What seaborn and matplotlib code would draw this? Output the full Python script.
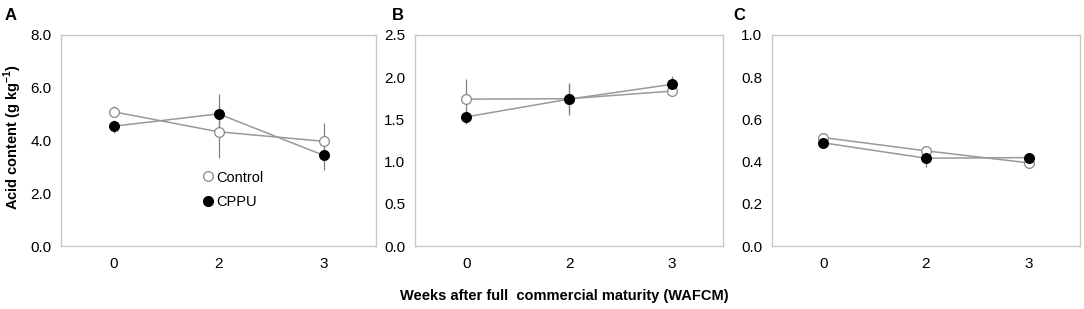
import pandas as pd
import matplotlib.pyplot as plt
import seaborn as sns
from matplotlib.lines import Line2D

# 数据
weeks = ['0', '2', '3']

control_a = [5.09, 4.33, 3.97]
control_a_err = [0.2, 1.0, 0.7]
cppu_a = [4.54, 5.01, 3.44]
cppu_a_err = [0.25, 0.75, 0.57]

control_b = [1.74, 1.745, 1.835]
control_b_err = [0.24, 0.17, 0.05]
cppu_b = [1.53, 1.74, 1.915]
cppu_b_err = [0.08, 0.19, 0.1]

control_c = [0.514, 0.451, 0.394]
control_c_err = [0.01, 0.01, 0.01]
cppu_c = [0.489, 0.416, 0.419]
cppu_c_err = [0.01, 0.04, 0.01]

panels = [
    ('A', control_a, control_a_err, cppu_a, cppu_a_err, [0, 2, 4, 6, 8]),
    ('B', control_b, control_b_err, cppu_b, cppu_b_err, [0, 0.5, 1.0, 1.5, 2.0, 2.5]),
    ('C', control_c, control_c_err, cppu_c, cppu_c_err, [0, 0.2, 0.4, 0.6, 0.8, 1.0]),
]

sns.set_style('white')
plt.rcParams['font.family'] = ['Liberation Sans', 'DejaVu Sans']
plt.rcParams['text.color'] = 'black'
plt.rcParams['axes.labelcolor'] = 'black'
plt.rcParams['xtick.labelcolor'] = 'black'
plt.rcParams['ytick.labelcolor'] = 'black'

fig = plt.figure(figsize=(10.84, 3.09), dpi=100)

# 坐标轴位置 (像素换算)
lefts = [61, 415, 772]
widths = [315, 308, 308]
letter_off = [56, 23, 39]
frame_col = '#c8c8c8'
line_col = '#999999'
err_col = '#808080'

for (letter, ctl, ctl_err, cp, cp_err, yticks), left, w, off in zip(panels, lefts, widths, letter_off):
    ax = fig.add_axes([left / 1084, 1 - 246 / 309, w / 1084, 211 / 309])
    pos = list(range(len(weeks)))

    # 误差线
    ax.errorbar(pos, ctl, yerr=ctl_err, fmt='none', ecolor=err_col, elinewidth=0.9, capsize=0, zorder=1)
    ax.errorbar(pos, cp, yerr=cp_err, fmt='none', ecolor=err_col, elinewidth=0.9, capsize=0, zorder=1)

    df_ctl = pd.DataFrame({'pos': pos, 'value': ctl})
    df_cp = pd.DataFrame({'pos': pos, 'value': cp})
    sns.lineplot(data=df_ctl, x='pos', y='value', ax=ax, color=line_col, lw=1.1,
                 marker='o', markersize=7, markerfacecolor='white',
                 markeredgecolor='#888888', markeredgewidth=0.9, zorder=2)
    sns.lineplot(data=df_cp, x='pos', y='value', ax=ax, color=line_col, lw=1.1,
                 marker='o', markersize=7, markerfacecolor='black',
                 markeredgecolor='black', markeredgewidth=0.9, zorder=3)

    ax.set_xlim(-0.5, len(weeks) - 0.5)
    ax.set_ylim(yticks[0], yticks[-1])
    ax.set_yticks(yticks)
    ax.set_yticklabels([f'{t:.1f}' for t in yticks])
    ax.set_xticks([p - 0.5 for p in pos] + [len(weeks) - 0.5])
    ax.set_xticklabels([])
    ax.set_xticks(pos, minor=True)
    ax.set_xticklabels(weeks, minor=True)
    ax.tick_params(axis='x', which='major', direction='out', length=4, color=frame_col, width=1)
    ax.tick_params(axis='x', which='minor', length=0, pad=8, labelsize=11)
    ax.tick_params(axis='y', direction='out', length=3, color=frame_col, width=1, pad=4, labelsize=11)
    for s in ax.spines.values():
        s.set_color(frame_col)
        s.set_linewidth(1)
    ax.set_xlabel('')
    ax.set_ylabel('')

    fig.text((left - off) / 1084, 1 - 20 / 309, letter,
             fontsize=12, fontweight='bold')

    if letter == 'A':
        ax.set_ylabel('Acid content (g kg$^{\\mathregular{-1}}$)', fontsize=10.5,
                      fontweight='bold')
        ax.yaxis.set_label_coords(-0.118, 0.517)
        handles = [
            Line2D([], [], ls='none', marker='o', markersize=7, markerfacecolor='white',
                   markeredgecolor='#888888', markeredgewidth=0.9, label='Control'),
            Line2D([], [], ls='none', marker='o', markersize=7, markerfacecolor='black',
                   markeredgecolor='black', label='CPPU'),
        ]
        ax.legend(handles=handles, loc='upper left', bbox_to_anchor=(0.39, 0.42),
                  frameon=False, handletextpad=-0.2, handlelength=1.5,
                  labelspacing=0.75, fontsize=10.5)

fig.text(564 / 1084, 1 - 296 / 309, 'Weeks after full  commercial maturity (WAFCM)',
         ha='center', va='center', fontsize=10.5, fontweight='bold')

plt.savefig('out.png', dpi=100)
plt.close()
